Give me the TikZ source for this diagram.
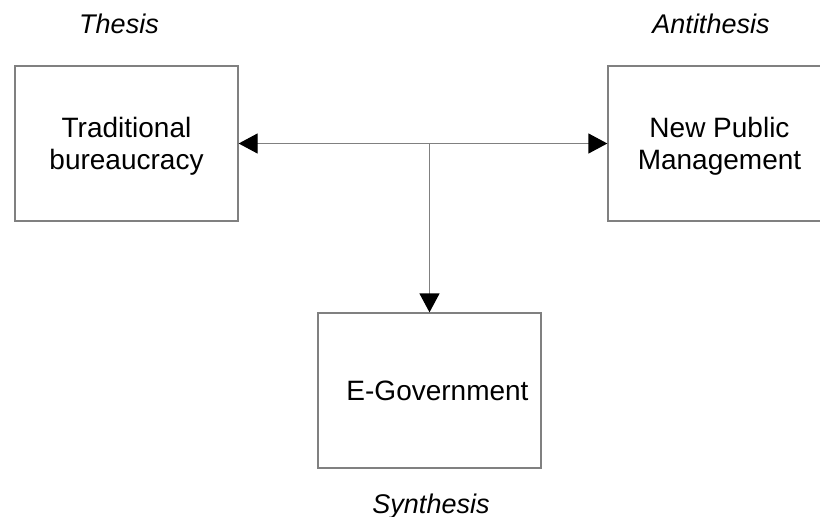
\documentclass[tikz,border=0pt]{standalone}
\usepackage{fontspec}
\setmainfont{Liberation Sans}
\usetikzlibrary{arrows.meta}
\tikzset{bigtri/.tip={Triangle[length=19pt,width=20pt,color=black]}}
\begin{document}
\begin{tikzpicture}[x=1pt,y=-1pt,
  stagebox/.style={draw=black!50, line width=1.3pt, minimum width=223pt,
    minimum height=155pt, inner sep=0pt, align=center, text depth=0pt,
    font=\fontsize{28}{32}\selectfont},
  stagelabel/.style={anchor=base, inner sep=0pt,
    font=\fontsize{27}{32}\selectfont\itshape},
  link/.style={draw=black!50, line width=1.3pt}]
  \useasboundingbox (0,0) rectangle (820,517);

  % the three stages
  \node[stagebox] (trad) at (126.5,143.5) {Traditional\\bureaucracy};
  \node[stagebox] (npm)  at (719.5,143.5) {New Public\\Management};
  \node[stagebox] (egov) at (429.5,390.5) {\hspace*{16pt}E-Government};

  % captions
  \node[stagelabel] (thesis) at (119,33) {Thesis};
  \node[stagelabel] (anti)   at (711,33) {Antithesis};
  \node[stagelabel] (synth)  at (431,513) {Synthesis};

  % connectors
  \coordinate (junction) at (egov.north |- trad.east);
  \draw[link, bigtri-bigtri] (trad.east) -- (npm.west);
  \draw[link, -bigtri] (junction) -- (egov.north);
\end{tikzpicture}
\end{document}
